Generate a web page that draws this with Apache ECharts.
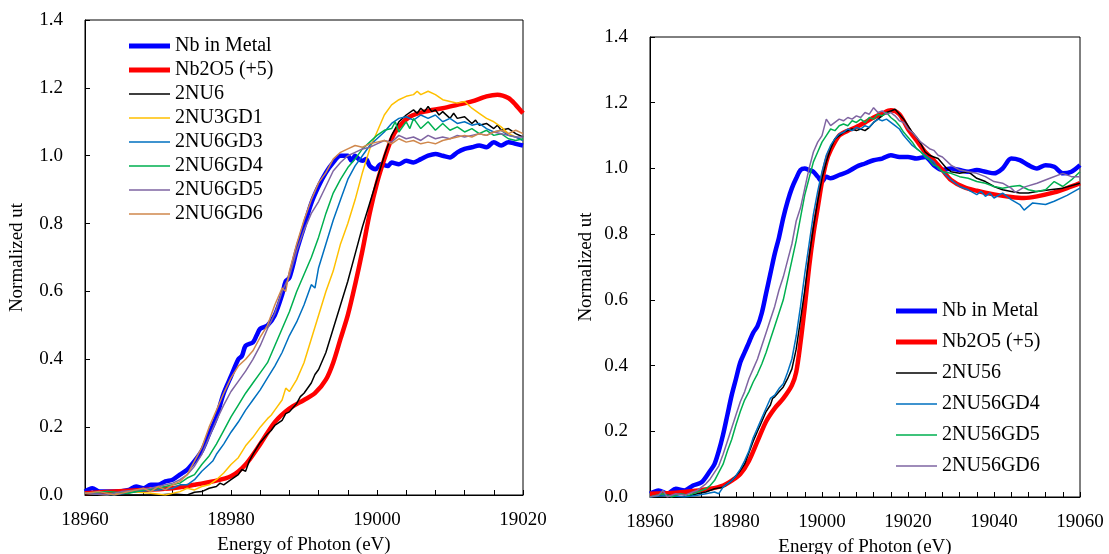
<!DOCTYPE html>
<html>
<head>
<meta charset="utf-8">
<title>Nb K-edge XANES</title>
<script src="https://cdn.jsdelivr.net/npm/echarts@6/dist/echarts.min.js"></script>
<style>
    html, body { margin: 0; padding: 0; background: #fff; }
    #chart { width: 1109px; height: 554px; }
</style>
</head>
<body>
<div id="chart"></div>
<script>
// ---- left panel data (energy eV, normalized ut) ----
var leftMetal = [[18960,0.01],[18961,0.02],[18962,0.01],[18964,0.01],[18966,0.015],[18967,0.025],[18968,0.02],[18969,0.03],[18970,0.03],[18971,0.04],[18972,0.045],[18973,0.06],[18974,0.075],[18975,0.1],[18976,0.13],[18977,0.18],[18978,0.23],[18979,0.3],[18980,0.35],[18981,0.4],[18981.5,0.41],[18982,0.44],[18983,0.45],[18983.5,0.47],[18984,0.49],[18985,0.5],[18986,0.53],[18987,0.59],[18987.5,0.63],[18988,0.64],[18989,0.72],[18990,0.79],[18991,0.86],[18992,0.91],[18993,0.95],[18994,0.98],[18995,1.0],[18996,1.0],[18996.5,0.985],[18997,1.0],[18997.5,0.99],[18998,0.985],[18998.5,0.99],[18999,0.97],[18999.8,0.96],[19000.5,0.975],[19001.5,0.97],[19002,0.98],[19003,0.975],[19004,0.985],[19005,0.98],[19006,0.99],[19007,1.0],[19008,1.005],[19009,1.0],[19010,0.995],[19011,1.01],[19012,1.02],[19013,1.025],[19014,1.03],[19015,1.025],[19016,1.04],[19017,1.03],[19018,1.04],[19019,1.035],[19020,1.03]];
var leftNb2O5 = [[18960,0.005],[18964,0.01],[18968,0.015],[18972,0.02],[18975,0.03],[18977.5,0.04],[18980,0.055],[18982,0.09],[18984,0.15],[18986,0.215],[18988,0.255],[18990,0.28],[18991.5,0.3],[18993,0.34],[18994,0.39],[18995,0.46],[18996,0.53],[18997,0.62],[18998,0.72],[18999,0.83],[19000,0.92],[19001,0.99],[19002,1.05],[19003,1.085],[19004.5,1.115],[19006.5,1.13],[19009,1.14],[19011,1.15],[19013,1.16],[19015,1.175],[19016.5,1.18],[19018,1.17],[19019,1.15],[19020,1.125]];
var left2NU6 = [[18960,0.0],[18965,0.0],[18970,0.0],[18972,0.003],[18974,0.0],[18975,0.008],[18976,0.01],[18977,0.02],[18978,0.025],[18978.5,0.035],[18979,0.03],[18980,0.045],[18981,0.06],[18981.5,0.075],[18982,0.07],[18982.5,0.1],[18983,0.12],[18984,0.155],[18985,0.18],[18985.5,0.19],[18986,0.205],[18987,0.22],[18987.5,0.24],[18988,0.245],[18989,0.27],[18989.5,0.29],[18990,0.3],[18991,0.33],[18991.5,0.355],[18992,0.37],[18993,0.42],[18994,0.49],[18995,0.56],[18996,0.63],[18997,0.71],[18998,0.79],[18999,0.86],[19000,0.93],[19001,1.0],[19002,1.06],[19003,1.1],[19004,1.12],[19005,1.135],[19005.5,1.125],[19006,1.14],[19006.5,1.13],[19007,1.145],[19007.5,1.13],[19008,1.135],[19008.5,1.12],[19009,1.13],[19010,1.11],[19010.5,1.125],[19011,1.11],[19012,1.115],[19013,1.095],[19013.5,1.105],[19014,1.09],[19015,1.095],[19016,1.08],[19016.5,1.09],[19017,1.075],[19018,1.08],[19019,1.065],[19020,1.055]];
var left2NU3GD1 = [[18960,0.005],[18963,0.0],[18966,0.01],[18969,0.005],[18971,0.0],[18973,0.01],[18974,0.02],[18975,0.015],[18976,0.025],[18977,0.03],[18978,0.045],[18979,0.065],[18980,0.09],[18981,0.11],[18982,0.145],[18983,0.17],[18984,0.2],[18985,0.225],[18985.5,0.235],[18986,0.25],[18987,0.28],[18987.5,0.315],[18988,0.305],[18989,0.34],[18990,0.39],[18991,0.46],[18992,0.53],[18993,0.6],[18994,0.66],[18995,0.74],[18996,0.8],[18997,0.87],[18998,0.95],[18999,1.02],[19000,1.07],[19001,1.12],[19002,1.15],[19003,1.165],[19004,1.175],[19005,1.18],[19005.5,1.19],[19006,1.18],[19007,1.19],[19008,1.18],[19009,1.165],[19010,1.16],[19011,1.155],[19012,1.16],[19013,1.14],[19014,1.125],[19015,1.11],[19016,1.1],[19017,1.085],[19018,1.065],[19019,1.055],[19020,1.045]];
var left2NU6GD3 = [[18960,0.005],[18964,0.0],[18967,0.01],[18970,0.015],[18972,0.02],[18973,0.03],[18974,0.03],[18975,0.045],[18976,0.07],[18977,0.09],[18977.5,0.1],[18978,0.12],[18979,0.15],[18980,0.185],[18981,0.215],[18982,0.25],[18983,0.28],[18984,0.31],[18985,0.345],[18986,0.38],[18987,0.42],[18988,0.47],[18989,0.51],[18990,0.56],[18991,0.62],[18991.5,0.61],[18992,0.67],[18993,0.74],[18994,0.81],[18995,0.87],[18996,0.93],[18997,0.97],[18998,1.0],[18999,1.03],[19000,1.05],[19001,1.07],[19002,1.095],[19003,1.11],[19004,1.115],[19005,1.105],[19006,1.12],[19007,1.11],[19008,1.12],[19009,1.1],[19010,1.11],[19011,1.095],[19012,1.1],[19013,1.09],[19014,1.095],[19015,1.08],[19016,1.07],[19017,1.075],[19018,1.06],[19019,1.055],[19020,1.045]];
var left2NU6GD4 = [[18960,0.005],[18963,0.01],[18966,0.005],[18968,0.015],[18970,0.02],[18972,0.03],[18973,0.035],[18974,0.05],[18975,0.06],[18976,0.09],[18977,0.115],[18978,0.15],[18979,0.19],[18980,0.23],[18981,0.265],[18982,0.3],[18983,0.33],[18984,0.36],[18985,0.39],[18986,0.44],[18987,0.49],[18988,0.54],[18989,0.6],[18990,0.65],[18991,0.7],[18992,0.76],[18993,0.83],[18994,0.89],[18995,0.93],[18996,0.965],[18997,0.99],[18998,1.02],[18999,1.04],[19000,1.06],[19001,1.075],[19002,1.08],[19002.5,1.1],[19003,1.07],[19004,1.1],[19004.5,1.08],[19005,1.11],[19006,1.08],[19007,1.1],[19008,1.075],[19009,1.095],[19010,1.075],[19011,1.085],[19012,1.07],[19013,1.08],[19014,1.065],[19015,1.075],[19016,1.06],[19017,1.065],[19018,1.05],[19019,1.045],[19020,1.05]];
var left2NU6GD5 = [[18960,0.005],[18963,0.0],[18965,0.01],[18967,0.015],[18969,0.02],[18971,0.03],[18972,0.035],[18973,0.045],[18974,0.06],[18975,0.085],[18976,0.12],[18977,0.17],[18978,0.22],[18979,0.265],[18980,0.305],[18981,0.335],[18982,0.365],[18983,0.4],[18984,0.44],[18985,0.49],[18986,0.535],[18987,0.6],[18988,0.645],[18989,0.72],[18990,0.78],[18991,0.83],[18992,0.865],[18993,0.91],[18994,0.955],[18995,0.98],[18996,1.0],[18997,1.01],[18998,1.02],[18999,1.025],[19000,1.035],[19001,1.045],[19002,1.04],[19003,1.06],[19004,1.05],[19005,1.055],[19006,1.045],[19007,1.06],[19008,1.05],[19009,1.055],[19010,1.05],[19011,1.06],[19012,1.055],[19013,1.06],[19014,1.065],[19015,1.06],[19016,1.07],[19017,1.065],[19018,1.06],[19019,1.055],[19020,1.055]];
var left2NU6GD6 = [[18960,0.005],[18962,0.01],[18964,0.0],[18966,0.01],[18968,0.02],[18969,0.01],[18970,0.025],[18971,0.015],[18972,0.03],[18973,0.04],[18974,0.06],[18975,0.1],[18976,0.14],[18977,0.2],[18978,0.25],[18979,0.3],[18980,0.345],[18981,0.38],[18982,0.4],[18983,0.425],[18984,0.465],[18985,0.5],[18986,0.56],[18987,0.61],[18987.5,0.6],[18988,0.66],[18989,0.74],[18990,0.81],[18991,0.87],[18992,0.92],[18993,0.95],[18994,0.99],[18995,1.01],[18996,1.02],[18997,1.03],[18998,1.025],[18999,1.035],[19000,1.04],[19001,1.045],[19002,1.035],[19003,1.05],[19004,1.04],[19005,1.045],[19006,1.035],[19007,1.04],[19008,1.035],[19009,1.045],[19010,1.05],[19011,1.055],[19012,1.06],[19013,1.055],[19014,1.065],[19015,1.06],[19016,1.07],[19017,1.075],[19018,1.065],[19019,1.075],[19020,1.065]];

// ---- right panel data ----
var rightMetal = [[18960,0.01],[18962,0.02],[18964,0.01],[18966,0.025],[18968,0.02],[18970,0.035],[18972,0.045],[18974,0.08],[18975,0.1],[18976,0.14],[18977,0.19],[18978,0.25],[18979,0.31],[18980,0.36],[18981,0.41],[18982,0.44],[18983,0.47],[18984,0.5],[18985,0.52],[18986,0.56],[18987,0.62],[18988,0.68],[18989,0.74],[18990,0.79],[18991,0.85],[18992,0.9],[18993,0.94],[18994,0.97],[18995,0.995],[18996,1.0],[18997,0.995],[18998,0.99],[18999,0.975],[19000,0.96],[19001,0.975],[19002,0.97],[19004,0.98],[19006,0.99],[19008,1.005],[19010,1.015],[19012,1.025],[19014,1.03],[19016,1.04],[19018,1.035],[19020,1.035],[19022,1.03],[19024,1.035],[19026,1.01],[19028,0.995],[19030,1.0],[19032,0.995],[19034,0.99],[19036,0.995],[19038,0.99],[19040,0.985],[19042,1.0],[19044,1.03],[19046,1.025],[19048,1.01],[19050,1.0],[19052,1.01],[19054,1.005],[19056,0.985],[19058,0.99],[19060,1.01]];
var rightNb2O5 = [[18960,0.01],[18965,0.012],[18970,0.018],[18974,0.025],[18977,0.035],[18979,0.05],[18981,0.07],[18983,0.11],[18985,0.17],[18987,0.23],[18989,0.27],[18991,0.3],[18993,0.34],[18994,0.38],[18995,0.47],[18996,0.58],[18997,0.7],[18998,0.8],[18999,0.88],[19000,0.96],[19001,1.02],[19002,1.055],[19004,1.1],[19006,1.115],[19008,1.126],[19010,1.14],[19012,1.155],[19014,1.167],[19016,1.177],[19018,1.165],[19020,1.12],[19022,1.085],[19024,1.05],[19026,1.025],[19028,0.995],[19030,0.965],[19033,0.943],[19036,0.932],[19040,0.921],[19044,0.913],[19047,0.91],[19050,0.915],[19054,0.927],[19057,0.94],[19060,0.955]];
var right2NU56 = [[18960,0.0],[18964,0.005],[18968,0.0],[18971,0.01],[18973,0.015],[18975,0.025],[18977,0.03],[18979,0.05],[18980,0.065],[18981,0.08],[18982,0.1],[18983,0.135],[18984,0.17],[18985,0.2],[18986,0.23],[18987,0.26],[18988,0.28],[18988.5,0.3],[18989,0.305],[18990,0.32],[18991,0.335],[18992,0.36],[18993,0.39],[18994,0.45],[18995,0.54],[18996,0.63],[18997,0.73],[18998,0.82],[18999,0.9],[19000,0.97],[19001,1.02],[19002,1.06],[19003,1.09],[19004,1.1],[19005,1.11],[19006,1.115],[19007,1.12],[19008,1.115],[19009,1.12],[19010,1.115],[19011,1.125],[19012,1.14],[19013,1.15],[19014,1.16],[19015,1.17],[19016,1.175],[19017,1.18],[19018,1.165],[19019,1.15],[19020,1.13],[19021,1.11],[19022,1.095],[19023,1.075],[19024,1.05],[19025,1.04],[19026,1.035],[19027,1.03],[19028,1.015],[19029,1.0],[19030,0.99],[19032,0.985],[19034,0.99],[19036,0.97],[19038,0.96],[19040,0.945],[19042,0.935],[19044,0.93],[19046,0.925],[19048,0.925],[19050,0.93],[19053,0.935],[19056,0.94],[19060,0.955]];
var right2NU56GD4 = [[18960,0.0],[18964,0.005],[18968,0.0],[18971,0.005],[18973,0.01],[18975,0.015],[18976,0.01],[18977,0.03],[18979,0.05],[18980,0.065],[18981,0.085],[18982,0.11],[18983,0.14],[18984,0.18],[18985,0.21],[18986,0.24],[18987,0.27],[18988,0.3],[18989,0.31],[18990,0.33],[18991,0.345],[18992,0.38],[18993,0.42],[18994,0.49],[18995,0.58],[18996,0.68],[18997,0.77],[18998,0.86],[18999,0.93],[19000,0.99],[19001,1.04],[19002,1.07],[19003,1.09],[19004,1.105],[19005,1.11],[19006,1.12],[19007,1.115],[19008,1.125],[19009,1.12],[19010,1.13],[19011,1.125],[19012,1.14],[19013,1.15],[19014,1.145],[19015,1.15],[19016,1.14],[19017,1.13],[19018,1.12],[19019,1.1],[19020,1.085],[19021,1.07],[19022,1.06],[19023,1.05],[19024,1.04],[19025,1.03],[19026,1.02],[19027,1.0],[19028,0.99],[19030,0.965],[19032,0.945],[19034,0.935],[19036,0.92],[19037,0.93],[19038,0.915],[19039,0.925],[19040,0.91],[19042,0.925],[19044,0.905],[19046,0.89],[19047,0.873],[19049,0.895],[19052,0.89],[19054,0.9],[19057,0.918],[19060,0.94]];
var right2NU56GD5 = [[18960,0.0],[18963,0.01],[18965,0.0],[18967,0.01],[18969,0.005],[18971,0.015],[18972,0.02],[18973,0.025],[18974,0.035],[18975,0.05],[18976,0.075],[18977,0.1],[18978,0.14],[18979,0.175],[18980,0.22],[18981,0.26],[18982,0.295],[18983,0.32],[18984,0.35],[18985,0.375],[18986,0.405],[18987,0.44],[18988,0.48],[18989,0.52],[18990,0.56],[18991,0.6],[18992,0.66],[18993,0.72],[18994,0.78],[18995,0.85],[18996,0.92],[18997,0.97],[18998,1.02],[18999,1.05],[19000,1.08],[19001,1.1],[19002,1.12],[19003,1.115],[19004,1.13],[19005,1.135],[19006,1.13],[19007,1.145],[19008,1.14],[19009,1.15],[19010,1.14],[19011,1.155],[19012,1.15],[19013,1.165],[19014,1.16],[19015,1.17],[19016,1.155],[19017,1.145],[19018,1.13],[19019,1.11],[19020,1.095],[19021,1.08],[19022,1.06],[19023,1.05],[19024,1.035],[19025,1.025],[19026,1.01],[19027,1.005],[19028,0.99],[19030,0.985],[19032,0.975],[19034,0.97],[19036,0.96],[19038,0.955],[19040,0.945],[19042,0.94],[19044,0.945],[19046,0.948],[19048,0.935],[19050,0.93],[19052,0.935],[19054,0.96],[19056,0.945],[19058,0.965],[19060,0.99]];
var right2NU56GD6 = [[18960,0.0],[18962,0.005],[18963,0.02],[18964,0.0],[18966,0.01],[18968,0.005],[18970,0.015],[18971,0.02],[18972,0.03],[18973,0.04],[18974,0.055],[18975,0.075],[18976,0.095],[18977,0.13],[18978,0.17],[18979,0.21],[18980,0.25],[18981,0.29],[18982,0.32],[18983,0.36],[18984,0.39],[18985,0.42],[18986,0.46],[18987,0.5],[18988,0.54],[18989,0.58],[18990,0.63],[18991,0.67],[18992,0.72],[18993,0.77],[18994,0.84],[18995,0.88],[18996,0.94],[18997,1.0],[18998,1.05],[18999,1.08],[19000,1.1],[19001,1.15],[19002,1.13],[19003,1.14],[19004,1.15],[19005,1.145],[19006,1.155],[19007,1.15],[19008,1.16],[19009,1.155],[19010,1.17],[19011,1.165],[19012,1.185],[19013,1.17],[19014,1.175],[19015,1.165],[19016,1.17],[19017,1.16],[19018,1.145],[19019,1.14],[19020,1.12],[19021,1.11],[19022,1.095],[19023,1.08],[19024,1.07],[19025,1.06],[19026,1.055],[19027,1.04],[19028,1.035],[19030,1.01],[19032,0.995],[19034,0.99],[19036,0.985],[19038,0.975],[19040,0.96],[19042,0.955],[19044,0.94],[19045,0.927],[19047,0.943],[19050,0.955],[19053,0.97],[19056,0.985],[19058,0.975],[19060,0.975]];

var leftNames = ["Nb in Metal", "Nb2O5 (+5)", "2NU6", "2NU3GD1", "2NU6GD3", "2NU6GD4", "2NU6GD5", "2NU6GD6"];
var leftData = [leftMetal, leftNb2O5, left2NU6, left2NU3GD1, left2NU6GD3, left2NU6GD4, left2NU6GD5, left2NU6GD6];
var leftColors = ["#0000FF", "#FF0000", "#000000", "#FFC000", "#0070C0", "#00B050", "#7F65A2", "#D0884C"];

var rightNames = ["Nb in Metal", "Nb2O5 (+5)", "2NU56", "2NU56GD4", "2NU56GD5", "2NU56GD6"];
var rightData = [rightMetal, rightNb2O5, right2NU56, right2NU56GD4, right2NU56GD5, right2NU56GD6];
var rightColors = ["#0000FF", "#FF0000", "#000000", "#0070C0", "#00B050", "#7F65A2"];

var serif = '"Times New Roman", "Liberation Serif", serif';

function xAxisOf(idx, max) {
    return {
        type: 'value', gridIndex: idx, min: 18960, max: max, interval: 20,
        name: 'Energy of Photon (eV)', nameLocation: 'middle', nameGap: 41,
        nameTextStyle: { fontFamily: serif, fontSize: 19, color: '#000' },
        axisLine: { lineStyle: { color: '#000', width: 1 } },
        axisTick: { inside: true, length: 5, lineStyle: { color: '#000' } },
        minorTick: { show: true, splitNumber: 5, length: 5, lineStyle: { color: '#000' } },
        axisLabel: {
            fontFamily: serif, fontSize: 19, color: '#000', margin: 16,
            formatter: function (v) { return String(v); } //不要千分位
        },
        splitLine: { show: false }
    };
}
function yAxisOf(idx, gap) {
    return {
        type: 'value', gridIndex: idx, min: 0, max: 1.4, interval: 0.2,
        name: 'Normalized ut', nameLocation: 'middle', nameGap: gap,
        nameTextStyle: { fontFamily: serif, fontSize: 19, color: '#000' },
        axisLine: { lineStyle: { color: '#000', width: 1 } },
        axisTick: { inside: true, length: 5, lineStyle: { color: '#000' } },
        axisLabel: {
            fontFamily: serif, fontSize: 19, color: '#000', margin: 22,
            formatter: function (v) { return v.toFixed(1); }
        },
        splitLine: { show: false }
    };
}

var series = [];
function addSeries(names, data, colors, idx) {
    for (var i = 0; i < names.length; i++) {
        var thick = i < 2; //参考样品用粗线
        series.push({
            name: names[i],
            type: 'line',
            xAxisIndex: idx, yAxisIndex: idx,
            data: data[i],
            symbol: 'none',
            smooth: thick ? 0.3 : false,
            lineStyle: { color: colors[i], width: thick ? 4.5 : 1.5 },
            itemStyle: { color: colors[i] },
            z: 2 + i
        });
    }
}
addSeries(leftNames, leftData, leftColors, 0);
addSeries(rightNames, rightData, rightColors, 1);

//图例只画线，不画圆点
function legendItems(names) {
    return names.map(function (n, i) {
        return {
            name: n,
            icon: i < 2 ? 'path://M0,0L41,0ZM0,14L41,14ZM0,4.5L41,4.5L41,9.5L0,9.5Z'
                        : 'path://M0,0L41,0ZM0,14L41,14ZM0,6.2L41,6.2L41,7.8L0,7.8Z',
            itemStyle: { borderWidth: 0 }
        };
    });
}

var chart = echarts.init(document.getElementById('chart'));
chart.setOption({
    animation: false,
    backgroundColor: '#fff',
    grid: [
        { left: 85, top: 20, width: 438, height: 475, outerBoundsMode: 'none', show: true, borderColor: '#000', borderWidth: 1 },
        { left: 650, top: 37, width: 430, height: 460, outerBoundsMode: 'none', show: true, borderColor: '#000', borderWidth: 1 }
    ],
    xAxis: [xAxisOf(0, 19020), xAxisOf(1, 19060)],
    yAxis: [yAxisOf(0, 58), yAxisOf(1, 54)],
    legend: [
        {
            data: legendItems(leftNames), orient: 'vertical', left: 129, top: 36, padding: 0,
            itemWidth: 41, itemHeight: 14, itemGap: 4, itemTextGap: 3,
            textStyle: { fontFamily: serif, fontSize: 20, color: '#000' }
        },
        {
            data: legendItems(rightNames), orient: 'vertical', left: 896, top: 301, padding: 0,
            itemWidth: 41, itemHeight: 14, itemGap: 11, itemTextGap: 3,
            textStyle: { fontFamily: serif, fontSize: 20, color: '#000' }
        }
    ],
    series: series
});
</script>
</body>
</html>
